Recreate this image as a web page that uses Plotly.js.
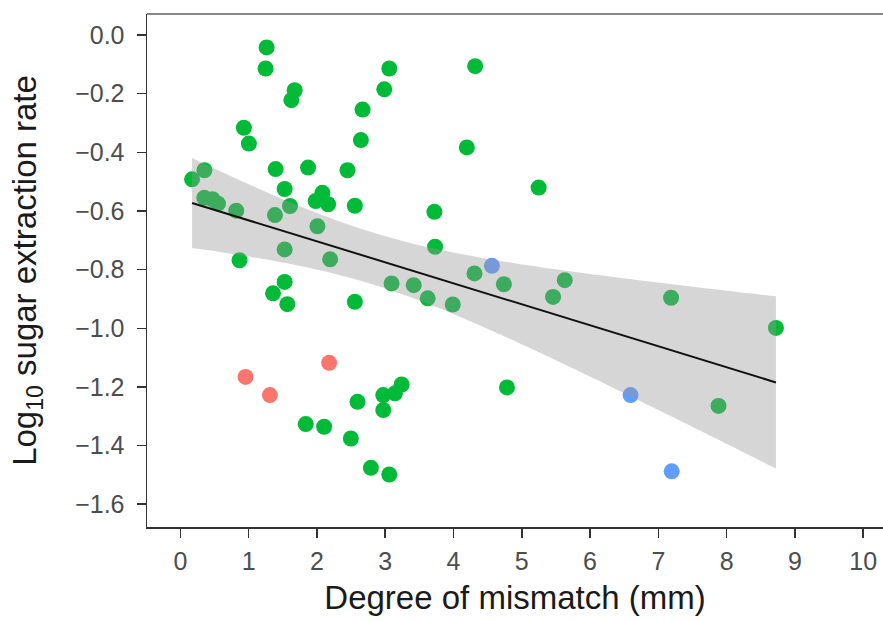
<!DOCTYPE html>
<html>
<head>
<meta charset="utf-8">
<script src="https://cdn.plot.ly/plotly-3.0.1.min.js"></script>
<style>html,body{margin:0;padding:0;background:#fff;overflow:hidden}</style>
</head>
<body>
<div id="chart" style="width:883px;height:621px"></div>
<script>
// Green group
const greenX = [1.263,1.248,1.674,1.625,3.059,2.986,2.668,2.643,0.930,1.003,0.171,0.352,1.395,1.870,2.447,1.527,2.080,1.982,2.164,2.555,3.720,0.350,0.470,0.550,0.818,1.605,1.385,2.007,3.730,1.527,0.866,2.193,1.527,1.356,1.566,2.555,3.093,3.417,3.622,3.989,4.317,4.195,5.247,4.307,4.738,5.629,5.458,7.186,8.722,4.783,7.881,2.594,3.240,3.142,2.971,2.971,1.836,2.105,2.496,2.790,3.059];
const greenY = [-0.042,-0.114,-0.188,-0.222,-0.114,-0.185,-0.254,-0.358,-0.316,-0.370,-0.492,-0.461,-0.457,-0.452,-0.461,-0.525,-0.538,-0.566,-0.577,-0.582,-0.603,-0.555,-0.560,-0.575,-0.599,-0.583,-0.614,-0.652,-0.722,-0.731,-0.768,-0.765,-0.842,-0.881,-0.918,-0.910,-0.847,-0.853,-0.898,-0.919,-0.106,-0.383,-0.520,-0.813,-0.850,-0.836,-0.893,-0.896,-0.999,-1.202,-1.265,-1.251,-1.192,-1.222,-1.228,-1.279,-1.327,-1.336,-1.376,-1.476,-1.499];
// Red group
const redX = [0.954,1.311,2.178];
const redY = [-1.166,-1.228,-1.118];
// Blue group
const blueX = [4.562,6.593,7.195];
const blueY = [-0.787,-1.228,-1.488];

const xTicks = [0,1,2,3,4,5,6,7,8,9,10];
const yTicks = [0,-0.2,-0.4,-0.6,-0.8,-1.0,-1.2,-1.4,-1.6];

// Linear model fit (like geom_smooth(method = "lm")) over all points
const allX = greenX.concat(redX, blueX);
const allY = greenY.concat(redY, blueY);
const n = allX.length;
const mx = allX.reduce((a,b)=>a+b,0)/n;
const my = allY.reduce((a,b)=>a+b,0)/n;
let sxx = 0, sxy = 0;
for (let i=0;i<n;i++){ sxx += (allX[i]-mx)**2; sxy += (allX[i]-mx)*(allY[i]-my); }
const slope = sxy/sxx, icpt = my - slope*mx;
let sse = 0;
for (let i=0;i<n;i++){ sse += (allY[i]-(icpt+slope*allX[i]))**2; }
const s = Math.sqrt(sse/(n-2));
const tq = 1.997; // 97.5% t quantile, ~65 df
const xmin = Math.min(...allX), xmax = Math.max(...allX);
const fx = [], fy = [], up = [], lo = [];
for (let k=0;k<=80;k++){
  const x = xmin + (xmax-xmin)*k/80;
  const y = icpt + slope*x;
  const se = s*Math.sqrt(1/n + (x-mx)**2/sxx);
  fx.push(x); fy.push(y); up.push(y + tq*se); lo.push(y - tq*se);
}
const bandX = fx.concat(fx.slice().reverse());
const bandY = up.concat(lo.slice().reverse());

const mk = c => ({color:c, size:16, line:{width:0}});
const traces = [
  {x:greenX, y:greenY, mode:'markers', type:'scatter', marker:mk('#00BA38'), hoverinfo:'skip'},
  {x:redX, y:redY, mode:'markers', type:'scatter', marker:mk('#F8766D'), hoverinfo:'skip'},
  {x:blueX, y:blueY, mode:'markers', type:'scatter', marker:mk('#619CFF'), hoverinfo:'skip'},
  {x:bandX, y:bandY, mode:'none', type:'scatter', fill:'toself', fillcolor:'rgba(153,153,153,0.4)', hoverinfo:'skip'},
  {x:fx, y:fy, mode:'lines', type:'scatter', line:{color:'#111', width:2}, hoverinfo:'skip'}
];

const tickFont = {family:'Liberation Sans, Arial, sans-serif', size:25, color:'#4d4d4d'};
const titleFont = {family:'Liberation Sans, Arial, sans-serif', size:33, color:'#1a1a1a'};

const layout = {
  width:883, height:621,
  margin:{l:147, r:0, t:14, b:94},
  paper_bgcolor:'#fff', plot_bgcolor:'#fff',
  showlegend:false,
  xaxis:{
    range:[-0.489,10.29], tickvals:xTicks, ticktext:xTicks.map(String),
    showgrid:false, zeroline:false, showline:true, linecolor:'#333', linewidth:1.5,
    ticks:'outside', ticklen:9, tickwidth:1.5, tickcolor:'#333',
    tickfont:tickFont, ticklabelstandoff:2,
    title:{text:'Degree of mismatch (mm)', font:titleFont, standoff:12}
  },
  yaxis:{
    range:[-1.678,0.072], tickvals:yTicks, ticktext:yTicks.map(v=>v.toFixed(1).replace('-','\u2212')),
    showgrid:false, zeroline:false, showline:true, linecolor:'#333', linewidth:1.5,
    ticks:'outside', ticklen:9, tickwidth:1.5, tickcolor:'#333',
    tickfont:tickFont, ticklabelstandoff:7,
    title:{text:'Log<sub>10</sub> sugar extraction rate', font:titleFont, standoff:28}
  },
  shapes:[{type:'line', xref:'paper', yref:'paper', x0:0, x1:1, y0:1, y1:1, line:{color:'#888', width:2}}]
};

Plotly.newPlot('chart', traces, layout, {displayModeBar:false, staticPlot:true});
</script>
</body>
</html>
